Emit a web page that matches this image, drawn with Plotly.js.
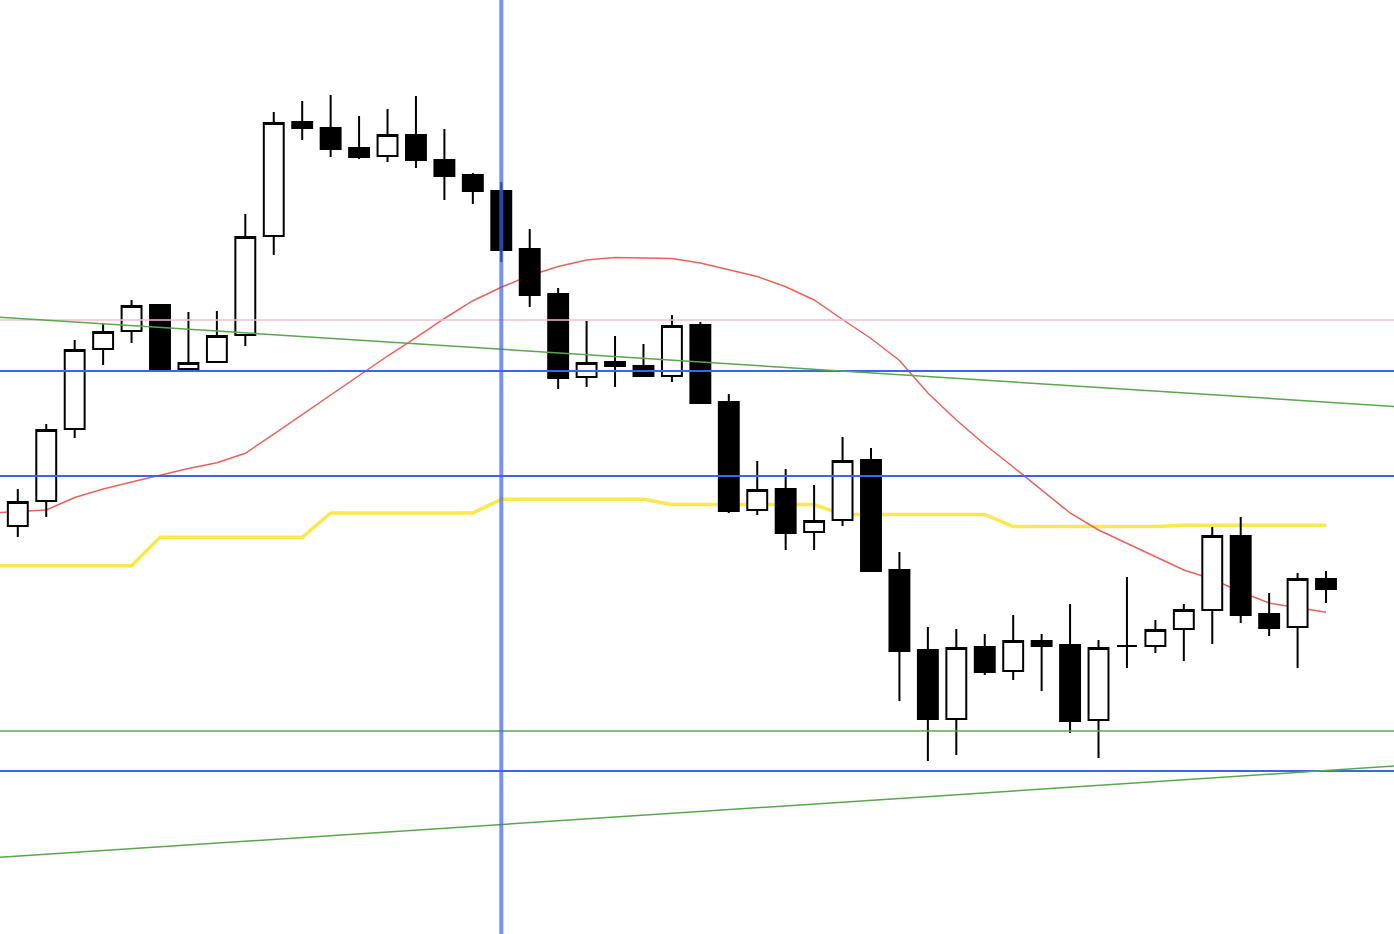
<!DOCTYPE html>
<html><head><meta charset="utf-8">
<script src="https://cdn.plot.ly/plotly-3.0.1.min.js"></script>
<style>html,body{margin:0;padding:0;background:#fff}#chart{width:1394px;height:934px}</style>
</head><body><div id="chart"></div>
<script>
// Candle positions (bar index)
const barIndex = [0,1,2,3,4,5,6,7,8,9,10,11,12,13,14,15,16,17,18,19,20,21,22,23,24,25,26,27,28,29,30,31,32,33,34,35,36,37,38,39,40,41,42,43,44,45,46];
const openVals  = [408,433,505,585,603,629,565,572,599,698,812,806,786,778,799,774,759,743,685,640,557,572,568,558,609,532,424,445,402,414,474,364,284,215,287,263,293,289,214,288,288,305,324,398,320,307,355];
const highVals  = [445,510,594,610,634,629,622,623,720,822,833,839,818,825,838,805,761,752,705,646,613,598,590,619,612,540,473,465,449,497,486,382,307,305,300,319,300,330,294,357,314,330,407,417,341,361,363];
const lowVals   = [397,417,496,569,591,563,564,572,588,679,794,777,775,772,766,734,730,672,627,545,547,547,557,552,530,421,419,384,384,408,363,233,173,179,259,254,243,201,176,266,281,273,290,311,298,266,331];
const closeVals = [432,504,584,602,628,564,571,598,697,811,806,785,777,799,774,758,743,684,639,556,571,568,558,608,531,423,444,401,413,473,363,283,215,286,262,293,288,213,286,288,304,324,398,319,306,355,345];

// Indicator lines (start one bar before the first visible candle)
const lineIndex = [-1,0,1,2,3,4,5,6,7,8,9,10,11,12,13,14,15,16,17,18,19,20,21,22,23,24,25,26,27,28,29,30,31,32,33,34,35,36,37,38,39,40,41,42,43,44,45,46];
const maVals = [421,422.5,424,436.5,445,452,459,465.5,471.3,480.7,499.8,519.4,539,558.5,578,596.3,615.5,633.3,646.7,658.5,667.5,674,676.5,676,675.5,671,664,657.5,647.3,634,614.5,595.5,573.5,541,514,489.5,467,444,421,404,390.5,377,364,355,342,331,326.5,321.7];
const stepVals = [368.3,368.3,368.3,368.3,368.3,368.3,396.7,396.7,396.7,396.7,396.7,396.7,421,421,421,421,421,421,434.7,434.7,434.7,434.7,434.7,434.7,429.5,429.5,429.5,429.5,429.5,429.5,419.5,419.5,419.5,419.5,419.5,419.5,407.5,407.5,407.5,407.5,407.5,407.5,408.7,408.7,408.7,408.7,408.7,408.7];

// Drawn levels
const pinkLevels = [614];
const blueLevels = [563, 458, 163];
const greenLevels = [203];
const trendUpperX = [-0.626, 48.39], trendUpperY = [616.8, 527.6];
const trendLowerX = [-0.626, 48.39], trendLowerY = [76.7, 167.9];
const markerBar = [17];

const xRange = [-0.626, 48.39];
const yRange = [0, 934];

const traces = [
  {type:'scatter', mode:'lines', x:lineIndex, y:stepVals, xaxis:'x', yaxis:'y',
   line:{color:'#fbe84a', width:3.5}, hoverinfo:'skip'},
  {type:'scatter', mode:'lines', x:lineIndex, y:maVals, xaxis:'x', yaxis:'y',
   line:{color:'#e9625c', width:1.5}, hoverinfo:'skip'},
  {type:'candlestick', x:barIndex, open:openVals, high:highVals, low:lowVals, close:closeVals,
   xaxis:'x2', yaxis:'y2', whiskerwidth:0,
   increasing:{line:{color:'#000000', width:2}, fillcolor:'#ffffff'},
   decreasing:{line:{color:'#000000', width:2}, fillcolor:'#000000'},
   hoverinfo:'skip'}
];

const shapes = [];
pinkLevels.forEach(v => shapes.push({type:'line', xref:'paper', x0:0, x1:1, yref:'y', y0:v, y1:v, line:{color:'#f2bfcf', width:1.5}, layer:'above'}));
blueLevels.forEach(v => shapes.push({type:'line', xref:'paper', x0:0, x1:1, yref:'y', y0:v, y1:v, line:{color:'#3d63f0', width:2}, layer:'above'}));
greenLevels.forEach(v => shapes.push({type:'line', xref:'paper', x0:0, x1:1, yref:'y', y0:v, y1:v, line:{color:'#5aa84c', width:1.5}, layer:'above'}));
shapes.push({type:'line', xref:'x', yref:'y', x0:trendUpperX[0], x1:trendUpperX[1], y0:trendUpperY[0], y1:trendUpperY[1], line:{color:'#5aa84c', width:1.5}, layer:'above'});
shapes.push({type:'line', xref:'x', yref:'y', x0:trendLowerX[0], x1:trendLowerX[1], y0:trendLowerY[0], y1:trendLowerY[1], line:{color:'#5aa84c', width:1.5}, layer:'above'});
markerBar.forEach(b => shapes.push({type:'line', xref:'x', yref:'paper', x0:b, x1:b, y0:0, y1:1, line:{color:'rgba(61,99,240,0.7)', width:4}, layer:'above'}));

const layout = {
  width:1394, height:934,
  margin:{l:0, r:0, t:0, b:0, pad:0},
  paper_bgcolor:'#ffffff', plot_bgcolor:'#ffffff',
  showlegend:false, hovermode:false,
  boxgap:0.3, boxgroupgap:0, boxmode:'overlay',
  xaxis:{range:xRange, visible:false, showgrid:false, zeroline:false, rangeslider:{visible:false}, fixedrange:true},
  yaxis:{range:yRange, visible:false, showgrid:false, zeroline:false, fixedrange:true},
  xaxis2:{range:xRange, overlaying:'x', visible:false, showgrid:false, zeroline:false, rangeslider:{visible:false}, fixedrange:true},
  yaxis2:{range:yRange, overlaying:'y', visible:false, showgrid:false, zeroline:false, fixedrange:true},
  shapes:shapes
};

Plotly.newPlot('chart', traces, layout, {displayModeBar:false, staticPlot:true});
</script>
</body></html>
